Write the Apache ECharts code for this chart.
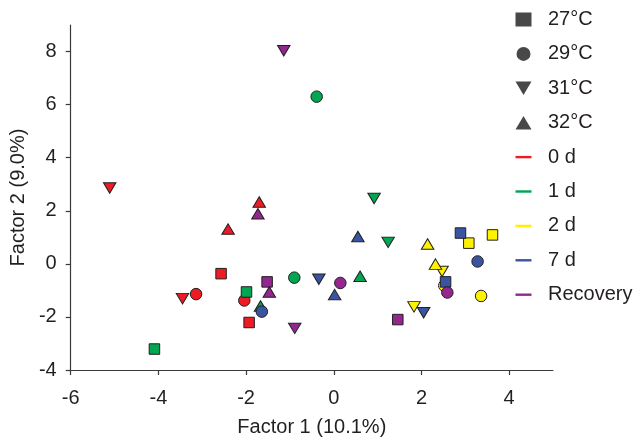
<!DOCTYPE html>
<html>
<head>
<meta charset="utf-8">
<script src="https://cdn.jsdelivr.net/npm/echarts@6/dist/echarts.min.js"></script>
<style>
html,body{margin:0;padding:0;background:#fff;}
#chart{width:640px;height:442px;}
</style>
</head>
<body>
<div id="chart"></div>
<script>
// Legend labels
const shapeNames = ['27°C', '29°C', '31°C', '32°C'];
const dayNames = ['0 d', '1 d', '2 d', '7 d', 'Recovery'];
const xTicks = [-6, -4, -2, 0, 2, 4];
const yTicks = [-4, -2, 0, 2, 4, 6, 8];

// Data: [Factor 1, Factor 2] per day and temperature
const d0_27 = [[-2.57, -0.37], [-1.93, -2.21]];
const d0_29 = [[-3.14, -1.14], [-2.04, -1.38]];
const d0_31 = [[-5.11, 2.86], [-3.45, -1.31]];
const d0_32 = [[-1.70, 2.33], [-2.41, 1.31]];

const d1_27 = [[-1.99, -1.06], [-4.09, -3.21]];
const d1_29 = [[-0.39, 6.30], [-0.90, -0.52]];
const d1_31 = [[0.92, 2.46], [1.24, 0.81]];
const d1_32 = [[0.60, -0.47], [-1.67, -1.59]];

const d2_27 = [[3.08, 0.78], [3.62, 1.09]];
const d2_29 = [[3.36, -1.21], [2.52, -0.82]];
const d2_31 = [[2.47, -0.29], [1.83, -1.62]];
const d2_32 = [[2.14, 0.75], [2.32, -0.01]];

const d7_27 = [[2.89, 1.16], [2.55, -0.68]];
const d7_29 = [[3.28, 0.09], [-1.64, -1.80]];
const d7_31 = [[-0.34, -0.58], [2.05, -1.84]];
const d7_32 = [[0.55, 1.03], [0.02, -1.16]];

const rec_27 = [[-1.52, -0.68], [1.46, -2.10]];
const rec_29 = [[0.15, -0.72], [2.59, -1.08]];
const rec_31 = [[-1.14, 8.03], [-0.89, -2.43]];
const rec_32 = [[-1.73, 1.89], [-1.47, -1.06]];

const dayData = [
  [d0_27, d0_29, d0_31, d0_32],
  [d1_27, d1_29, d1_31, d1_32],
  [d2_27, d2_29, d2_31, d2_32],
  [d7_27, d7_29, d7_31, d7_32],
  [rec_27, rec_29, rec_31, rec_32]
];

const dayColors = ['#ed1c24', '#00a651', '#fff200', '#3a54a4', '#92278f'];
const shapeSymbols = ['rect', 'circle', 'triangle', 'triangle'];
const shapeRotate = [0, 0, 180, 0];
const shapeSizes = [10.5, 11.5, [12.5, 10.5], [12.5, 10.5]];
const legendShapeIcons = ['rect', 'circle', 'path://M0,0H2L1,1.7Z', 'path://M1,0L2,1.7H0Z'];
const FONT = '"Liberation Sans", Arial, Helvetica, sans-serif';
const FS = 20;

const series = [];
dayData.forEach(function (shapesArr, i) {
  shapesArr.forEach(function (pts, j) {
    series.push({
      type: 'scatter',
      name: dayNames[i],
      data: pts,
      symbol: shapeSymbols[j],
      symbolRotate: shapeRotate[j],
      symbolSize: shapeSizes[j],
      itemStyle: { color: dayColors[i], borderColor: '#231f20', borderWidth: 1, opacity: 1 },
      emphasis: { disabled: true },
      z: 2 + i
    });
  });
});
shapeNames.forEach(function (n) {
  series.push({ type: 'scatter', name: n, data: [], itemStyle: { color: '#111' } });
});

const legendData = [];
shapeNames.forEach(function (n, j) {
  legendData.push({ name: n, icon: legendShapeIcons[j], itemStyle: { color: '#1a1a1a', borderWidth: 0 } });
});
dayNames.forEach(function (n, i) {
  legendData.push({ name: n, icon: 'path://M0,0H20V3H0Z', itemStyle: { color: dayColors[i], borderWidth: 0 } });
});

const chart = echarts.init(document.getElementById('chart'), null, { renderer: 'canvas' });
chart.setOption({
  animation: false,
  backgroundColor: '#fff',
  grid: { left: 70, right: 87, top: 25, bottom: 70, containLabel: false },
  legend: {
    orient: 'vertical',
    left: 515.5,
    top: 9.5,
    padding: 0,
    itemWidth: 16,
    itemHeight: 14,
    itemGap: 14.4,
    selectedMode: false,
    data: legendData,
    itemStyle: { borderWidth: 0 },
    textStyle: { fontFamily: FONT, fontSize: 20, color: '#231f20', lineHeight: 20, padding: [0, 0, 0, 11.5] }
  },
  xAxis: {
    type: 'value',
    min: -6,
    max: 5,
    name: 'Factor 1 (10.1%)',
    nameLocation: 'middle',
    nameGap: 47,
    nameTextStyle: { fontFamily: FONT, fontSize: FS, color: '#231f20' },
    splitLine: { show: false },
    axisLine: { show: true, onZero: false, lineStyle: { color: '#3a3a3a', width: 1.2 } },
    axisTick: { show: true, inside: false, length: 5, customValues: xTicks, lineStyle: { color: '#3a3a3a', width: 1.2 } },
    axisLabel: { customValues: xTicks, margin: 18, fontFamily: FONT, fontSize: FS, color: '#231f20' }
  },
  yAxis: {
    type: 'value',
    min: -4,
    max: 9,
    name: 'Factor 2 (9.0%)',
    nameLocation: 'middle',
    nameGap: 42,
    nameTextStyle: { fontFamily: FONT, fontSize: FS, color: '#231f20' },
    splitLine: { show: false },
    axisLine: { show: true, onZero: false, lineStyle: { color: '#3a3a3a', width: 1.2 } },
    axisTick: { show: true, inside: false, length: 5, customValues: yTicks, lineStyle: { color: '#3a3a3a', width: 1.2 } },
    axisLabel: { customValues: yTicks, margin: 14, fontFamily: FONT, fontSize: FS, color: '#231f20' }
  },
  series: series
});
</script>
</body>
</html>
